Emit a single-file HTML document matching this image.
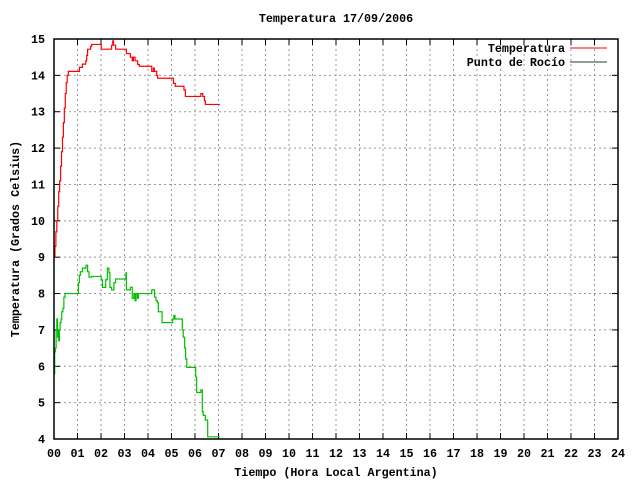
<!DOCTYPE html>
<html><head><meta charset="utf-8"><style>
body{margin:0;background:#fff}
svg text{font-family:"Liberation Mono",monospace;font-weight:bold;font-size:11.7px;fill:#000}
</style></head><body>
<svg id="c" width="640" height="480">
<text x="336" y="22" text-anchor="middle">Temperatura 17/09/2006</text>
<text x="336" y="476" text-anchor="middle">Tiempo (Hora Local Argentina)</text>
<text transform="translate(19,239) rotate(-90)" text-anchor="middle">Temperatura (Grados Celsius)</text>
<g id="grid"></g><g id="series"></g>
<rect x="54" y="39" width="564" height="400" fill="none" stroke="#000" stroke-width="1.5"/>
<g>
<text x="565" y="52" text-anchor="end">Temperatura</text>
<line x1="570" y1="48" x2="607" y2="48" stroke="#f00"/>
<text x="565" y="66" text-anchor="end">Punto de Rocío</text>
<line x1="570" y1="62" x2="607" y2="62" stroke="#204020"/>
</g>
</svg>
<script>
const xTicks=["00","01","02","03","04","05","06","07","08","09","10","11","12","13","14","15","16","17","18","19","20","21","22","23","24"];
const yTicks=[4,5,6,7,8,9,10,11,12,13,14,15];
const tempHours=[0,0.04,0.08,0.12,0.16,0.2,0.24,0.28,0.32,0.36,0.4,0.44,0.48,0.52,0.56,0.61,1.08,1.21,1.35,1.39,1.43,1.56,1.6,2.01,2.45,2.5,2.53,2.62,3.08,3.25,3.33,3.38,3.45,3.56,3.63,4.16,4.23,4.27,4.37,4.41,5.08,5.16,5.53,5.59,6.25,6.33,6.4,6.44,7.06];
const tempVals=[9.0,9.3,9.7,10.0,10.4,10.8,11.1,11.5,11.9,12.3,12.7,13.1,13.5,13.8,14.0,14.11,14.22,14.31,14.4,14.55,14.72,14.8,14.85,14.72,14.83,14.95,14.83,14.72,14.6,14.5,14.4,14.5,14.4,14.3,14.25,14.11,14.2,14.11,14.0,13.92,13.78,13.7,13.6,13.42,13.5,13.42,13.3,13.2,13.2];
const dewHours=[0,0.03,0.06,0.09,0.12,0.15,0.18,0.2,0.23,0.26,0.3,0.33,0.38,0.42,0.47,1.04,1.08,1.12,1.21,1.36,1.43,1.49,1.6,2.01,2.06,2.2,2.27,2.34,2.38,2.45,2.55,2.62,3.06,3.08,3.25,3.33,3.4,3.45,3.49,3.55,3.59,4.16,4.28,4.34,4.4,4.44,4.6,5.05,5.1,5.15,5.46,5.5,5.56,5.6,5.65,6.03,6.07,6.25,6.31,6.35,6.44,6.54,7.05];
const dewVals=[5.8,6.4,6.5,7.0,7.3,6.8,7.0,6.7,7.0,7.2,7.3,7.5,7.6,7.9,8.0,8.3,8.5,8.6,8.7,8.78,8.6,8.45,8.47,8.38,8.17,8.38,8.7,8.57,8.17,8.1,8.3,8.4,8.57,8.1,8.17,7.87,8.0,7.8,8.0,7.87,8.0,8.1,7.9,7.8,7.75,7.5,7.2,7.3,7.4,7.3,7.0,6.8,6.5,6.2,5.97,5.7,5.28,5.35,4.75,4.65,4.52,4.06,4.06];
const X=h=>54+h*23.5, Y=v=>439-(v-4)*400/11;
const NS="http://www.w3.org/2000/svg";
const grid=document.getElementById('grid'), ser=document.getElementById('series'), svg=document.getElementById('c');
function mk(tag,attrs,parent){const e=document.createElementNS(NS,tag);for(const k in attrs)e.setAttribute(k,attrs[k]);parent.appendChild(e);return e;}
xTicks.forEach((t,i)=>{const x=X(i);
 if(i>0&&i<24){const l=mk('line',{x1:x,y1:39,x2:x,y2:439,stroke:'#999','stroke-dasharray':'2,3'},grid);
 
 }
 mk('line',{x1:x,y1:439,x2:x,y2:433,stroke:'#000'},grid);
 mk('line',{x1:x,y1:39,x2:x,y2:45,stroke:'#000'},grid);
 const tx=mk('text',{x:x,y:457,'text-anchor':'middle'},svg);tx.textContent=t;
 
 });
yTicks.forEach(v=>{const y=Y(v);
 if(v>4&&v<15){const l=mk('line',{x1:54,y1:y,x2:618,y2:y,stroke:'#999','stroke-dasharray':'2,3'},grid);
 
 }
 mk('line',{x1:54,y1:y,x2:60,y2:y,stroke:'#000'},grid);
 mk('line',{x1:612,y1:y,x2:618,y2:y,stroke:'#000'},grid);
 const tx=mk('text',{x:45,y:y+4,'text-anchor':'end'},svg);tx.textContent=v;
 
 });
function steps(hs,vs){let d='M'+X(hs[0])+','+Y(vs[0]);for(let i=1;i<hs.length;i++){d+=' H'+X(hs[i])+' V'+Y(vs[i]);}return d;}
const tp=mk('path',{d:steps(tempHours,tempVals),fill:'none',stroke:'#f00','stroke-width':1.2},ser);


const dp=mk('path',{d:steps(dewHours,dewVals),fill:'none',stroke:'#00c000','stroke-width':1.2},ser);


</script>
</body></html>
